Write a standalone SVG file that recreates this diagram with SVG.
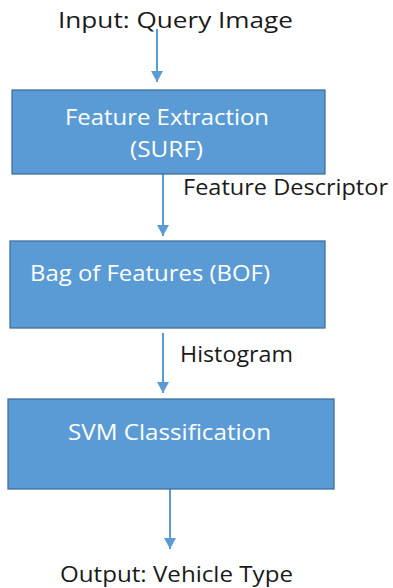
<svg xmlns="http://www.w3.org/2000/svg" width="393" height="588" viewBox="0 0 393 588">
<style>
.box{fill:#5b9bd5;stroke:#41719c;stroke-width:1.3}
.t{font-family:"Open Sans","Liberation Sans",sans-serif;font-size:21px}
.w{fill:#ffffff}
.k{fill:#1a1a1a}
.c{stroke:#5b9bd5;stroke-width:2;fill:none;marker-end:url(#ah)}
</style>
<defs>
<marker id="ah" markerWidth="13" markerHeight="12" refX="11" refY="6" orient="auto" markerUnits="userSpaceOnUse">
<path d="M0,0 L11,6 L0,12 Z" fill="#5b9bd5"/>
</marker>
</defs>
<g id="connectors">
<line class="c" x1="157" y1="29" x2="157" y2="82"/>
<line class="c" x1="163" y1="174" x2="163" y2="236"/>
<line class="c" x1="163" y1="333" x2="163" y2="393"/>
<line class="c" x1="170" y1="489" x2="170" y2="549"/>
</g>
<g id="input"><text class="t k" x="58" y="28" textLength="235" lengthAdjust="spacingAndGlyphs">Input: Query Image</text></g>
<g id="feature-extraction">
<rect class="box" x="12" y="90" width="313" height="84"/>
<text class="t w" x="65" y="125" textLength="204" lengthAdjust="spacingAndGlyphs">Feature Extraction</text>
<text class="t w" x="130" y="157" textLength="73" lengthAdjust="spacingAndGlyphs">(SURF)</text>
</g>
<g id="label-descriptor"><text class="t k" x="183" y="195" textLength="205" lengthAdjust="spacingAndGlyphs">Feature Descriptor</text></g>
<g id="bof">
<rect class="box" x="10" y="241" width="315" height="87"/>
<text class="t w" x="30" y="281" textLength="240" lengthAdjust="spacingAndGlyphs">Bag of Features (BOF)</text>
</g>
<g id="label-histogram"><text class="t k" x="180" y="362" textLength="113" lengthAdjust="spacingAndGlyphs">Histogram</text></g>
<g id="svm">
<rect class="box" x="8" y="399" width="326" height="90"/>
<text class="t w" x="68" y="440" textLength="203" lengthAdjust="spacingAndGlyphs">SVM Classification</text>
</g>
<g id="output"><text class="t k" x="60" y="582" textLength="233" lengthAdjust="spacingAndGlyphs">Output: Vehicle Type</text></g>
</svg>
